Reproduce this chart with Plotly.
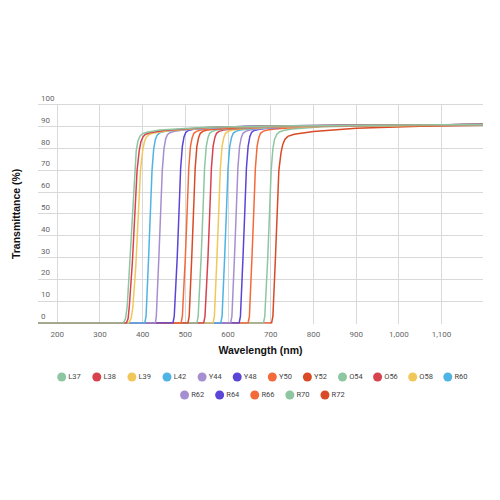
import plotly.graph_objects as go

# ---- data -------------------------------------------------------------
names = ["L37", "L38", "L39", "L42", "Y44", "Y48", "Y50", "Y52", "O54",
         "O56", "O58", "R60", "R62", "R64", "R66", "R70", "R72"]

GREEN, RED, YELLOW, BLUE = "#8ec6a2", "#d8424f", "#f0c85a", "#4fb3e3"
LAV, INDIGO, ORANGE, REDOR = "#a68fd0", "#5a45d6", "#f4693a", "#d94a26"
colors = [GREEN, RED, YELLOW, BLUE, LAV, INDIGO, ORANGE, REDOR, GREEN,
          RED, YELLOW, BLUE, LAV, INDIGO, ORANGE, GREEN, REDOR]

L37_x = [155, 355, 360, 364, 370, 376, 381, 385, 389, 394, 400, 410, 440, 550, 750, 1200]
L37_y = [0, 0, 2, 8, 28, 50, 70, 79, 83.5, 85.8, 86.8, 87.5, 88.5, 89.8, 90.5, 91]
L38_x = [155, 362, 366, 369, 376, 382, 387, 392, 396, 401, 407, 417, 450, 560, 760, 1200]
L38_y = [0, 0, 2, 8, 28, 50, 70, 79, 83.2, 85.5, 86.6, 87.3, 88.3, 89.8, 90.5, 91]
L39_x = [155, 367, 373, 377, 384, 390, 395, 400, 404, 409, 415, 427, 460, 560, 760, 1200]
L39_y = [0, 0, 2, 7, 26, 50, 70, 79, 83, 85.3, 86.5, 87.2, 88.2, 89.7, 90.4, 90.9]
L42_x = [155, 405, 408, 410, 414, 418, 422, 426, 430, 434, 440, 450, 480, 580, 760, 1200]
L42_y = [0, 0, 3, 10, 30, 50, 70, 80, 84.3, 86.2, 87.2, 87.8, 88.5, 89.8, 90.4, 90.9]
Y44_x = [155, 430, 432, 434, 438, 442, 446, 450, 454, 458, 464, 474, 500, 600, 800, 1200]
Y44_y = [0, 0, 3, 10, 30, 50, 70, 80, 84.5, 86.4, 87.3, 87.9, 88.6, 89.8, 90.5, 91]
Y48_x = [155, 471, 474, 476, 481, 485, 489, 493, 497, 501, 507, 516, 540, 640, 800, 1200]
Y48_y = [0, 0, 3, 10, 30, 50, 71, 81, 85.5, 87.4, 88.3, 88.8, 89.3, 90.2, 90.6, 91]
Y50_x = [155, 490, 493, 495, 500, 504, 508, 512, 516, 520, 526, 536, 560, 650, 800, 1200]
Y50_y = [0, 0, 3, 10, 30, 50, 71, 81, 85, 87, 87.9, 88.5, 89, 90, 90.5, 91]
Y52_x = [155, 506, 509, 511, 515, 519, 523, 527, 531, 535, 541, 551, 575, 660, 800, 1200]
Y52_y = [0, 0, 3, 10, 30, 50, 71, 81, 85, 87, 87.9, 88.5, 89, 90, 90.5, 91]
O54_x = [155, 527, 530, 532, 537, 541, 545, 549, 553, 557, 563, 573, 595, 680, 850, 1200]
O54_y = [0, 0, 3, 10, 30, 50, 71, 81, 85, 87, 87.9, 88.5, 89, 90, 90.6, 91]
O56_x = [155, 543, 546, 548, 553, 557, 561, 565, 569, 573, 579, 589, 610, 700, 850, 1200]
O56_y = [0, 0, 3, 10, 30, 50, 71, 81, 85, 87, 87.9, 88.5, 89, 90, 90.5, 91]
O58_x = [155, 565, 568, 570, 574, 578, 582, 586, 590, 594, 600, 610, 630, 700, 850, 1200]
O58_y = [0, 0, 3, 10, 30, 50, 71, 81, 85, 87, 87.9, 88.5, 89, 89.8, 90.4, 90.8]
R60_x = [155, 583, 586, 588, 592, 596, 600, 604, 608, 612, 618, 628, 650, 720, 850, 1200]
R60_y = [0, 0, 3, 10, 30, 50, 71, 81, 85, 87, 87.9, 88.5, 89, 90, 90.5, 91]
R62_x = [155, 606, 609, 611, 615, 619, 623, 627, 631, 635, 641, 651, 670, 740, 870, 1200]
R62_y = [0, 0, 3, 10, 30, 50, 71, 81, 85, 87, 87.9, 88.5, 89, 90, 90.5, 91]
R64_x = [155, 626, 629, 631, 635, 639, 643, 647, 651, 655, 661, 671, 690, 760, 880, 1200]
R64_y = [0, 0, 3, 10, 30, 50, 71, 81, 85.5, 87.4, 88.3, 88.8, 89.3, 90.2, 90.6, 91]
R66_x = [155, 647, 650, 652, 656, 660, 664, 668, 672, 676, 682, 692, 710, 780, 900, 1200]
R66_y = [0, 0, 3, 10, 30, 50, 71, 81, 85, 87, 87.9, 88.5, 89, 90, 90.5, 90.9]
R70_x = [155, 683, 686, 688, 693, 697, 701, 705, 709, 714, 720, 732, 750, 820, 950, 1200]
R70_y = [0, 0, 3, 10, 30, 50, 70, 80, 84.3, 86.5, 87.6, 88.4, 89, 90, 90.5, 90.9]
R72_x = [155, 702, 705, 707, 711, 715, 719, 724, 728, 733, 740, 755, 800, 900, 1050, 1200]
R72_y = [0, 0, 3, 10, 30, 50, 70, 78, 81.8, 84.2, 85.6, 86.6, 87.8, 89.3, 90.3, 90.7]

series_x = [L37_x, L38_x, L39_x, L42_x, Y44_x, Y48_x, Y50_x, Y52_x, O54_x,
            O56_x, O58_x, R60_x, R62_x, R64_x, R66_x, R70_x, R72_x]
series_y = [L37_y, L38_y, L39_y, L42_y, Y44_y, Y48_y, Y50_y, Y52_y, O54_y,
            O56_y, O58_y, R60_y, R62_y, R64_y, R66_y, R70_y, R72_y]

x_ticks = [200, 300, 400, 500, 600, 700, 800, 900, 1000, 1100]
y_ticks = [0, 10, 20, 30, 40, 50, 60, 70, 80, 90, 100]

# legend layout: first row 12 entries, second row 5 entries
row1_count = 12

# ---- figure -----------------------------------------------------------
fig = go.Figure()
# drawn last-to-first so that the first series ends up on top
for nm, col, xs, ys in reversed(list(zip(names, colors, series_x, series_y))):
    fig.add_trace(go.Scatter(
        x=xs, y=ys, name=nm, mode="lines",
        line=dict(color=col, width=1.5),
        showlegend=False, hoverinfo="x+y+name"))

# custom legend drawn on a hidden helper axis (two centred rows)
n2 = len(names) - row1_count
leg_x, leg_y = [], []
for i in range(len(names)):
    if i < row1_count:
        leg_x.append(i)
        leg_y.append(0)
    else:
        leg_x.append((i - row1_count) + (row1_count - n2) / 2)
        leg_y.append(-1)
fig.add_trace(go.Scatter(
    x=leg_x, y=leg_y, mode="markers+text", text=names,
    textposition="middle right",
    textfont=dict(family="Roboto", size=7.5, color="#444444"),
    marker=dict(size=9, color=colors),
    xaxis="x2", yaxis="y2", showlegend=False, hoverinfo="skip",
    cliponaxis=False))

grid = "#d9d9d9"
tickfont = dict(family="Roboto", size=8, color="#666666")
titlefont = dict(family="Liberation Sans", size=10.5, color="#111111",
                 weight="bold")

# y tick labels sit just above their gridlines at the left edge
for v in y_ticks:
    fig.add_annotation(
        xref="x domain", x=0, xanchor="left", xshift=1,
        yref="y", y=v, yanchor="bottom", yshift=0,
        text=str(v), showarrow=False, font=tickfont)

fig.update_layout(
    width=500, height=500, autosize=False,
    margin=dict(l=0, r=0, t=0, b=0),
    paper_bgcolor="white", plot_bgcolor="rgba(0,0,0,0)",
    showlegend=False,
    xaxis=dict(
        domain=[38 / 500, 483 / 500], range=[155, 1197],
        tickvals=x_ticks, tickformat=",", showgrid=True, gridcolor=grid,
        gridwidth=1, zeroline=False, showline=False, ticks="",
        tickfont=tickfont, ticklabelstandoff=4,
        title=dict(text="Wavelength (nm)", font=titlefont, standoff=8),
        fixedrange=True),
    yaxis=dict(
        domain=[(500 - 323.87) / 500, (500 - 103.9) / 500],
        range=[-0.4, 100.5],
        tickvals=y_ticks, showgrid=True, gridcolor=grid, gridwidth=1,
        zeroline=False, showline=False, ticks="", showticklabels=False,
        title=dict(text="Transmittance (%)", font=titlefont, standoff=14),
        fixedrange=True),
    xaxis2=dict(domain=[0, 1], anchor="y2",
                range=[-61.7 / 35.1, (500 - 61.7) / 35.1],
                visible=False, fixedrange=True),
    yaxis2=dict(domain=[0, 1], anchor="x2",
                range=[-123 / 18, (500 - 123) / 18],
                visible=False, fixedrange=True),
)

fig.write_html("out.html")
